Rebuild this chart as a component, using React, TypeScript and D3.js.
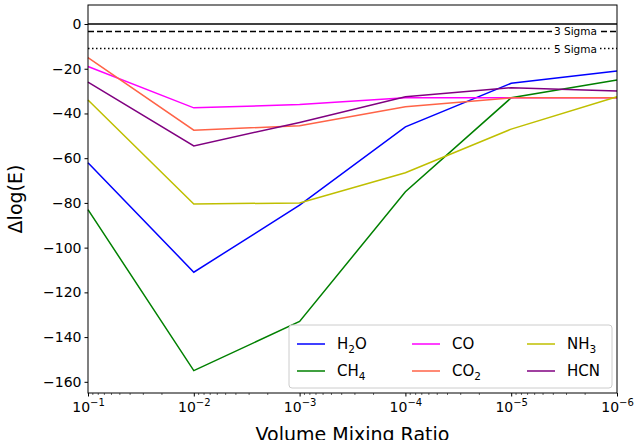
import * as d3 from "d3";
import { useEffect, useRef } from "react";

const vmr = [1e-1, 1e-2, 1e-3, 1e-4, 1e-5, 1e-6];
const h2o = [-62, -111, -81, -46, -26.5, -21];
const ch4 = [-83, -155, -133, -75, -33, -25];
const co = [-19, -37.5, -36, -33, -33, -33];
const co2 = [-15, -47.5, -45.5, -37, -33, -33];
const nh3 = [-34, -80.5, -80, -66.5, -47, -32.5];
const hcn = [-26, -54.5, -44, -32.5, -28.5, -30];
const sigmaLines = [
  { v: 0, dash: "", label: "" },
  { v: -3.3, dash: "6,3", label: "3 Sigma" },
  { v: -11, dash: "1.5,2.5", label: "5 Sigma" },
];
const seriesList = [
  { name: "H", sub: "2", tail: "O", values: h2o, color: "#0000ff" },
  { name: "CH", sub: "4", tail: "", values: ch4, color: "#008000" },
  { name: "CO", sub: "", tail: "", values: co, color: "#ff00ff" },
  { name: "CO", sub: "2", tail: "", values: co2, color: "#ff6347" },
  { name: "NH", sub: "3", tail: "", values: nh3, color: "#bfbf00" },
  { name: "HCN", sub: "", tail: "", values: hcn, color: "#800080" },
];
const yTicks = [0, -20, -40, -60, -80, -100, -120, -140, -160];
const xTicks = [-1, -2, -3, -4, -5, -6];

export default function App() {
  const ref = useRef<SVGSVGElement | null>(null);
  const width = 639, height = 440;

  useEffect(() => {
    if (!ref.current) return;
    const svg = d3.select(ref.current);
    svg.selectAll("*").remove();
    const m = { left: 88, right: 22, top: 5, bottom: 47 };
    const x = d3.scaleLog().domain([1e-1, 1e-6]).range([m.left, width - m.right]);
    const y = d3.scaleLinear().domain([-165, 8.5]).range([height - m.bottom, m.top]);
    const font = "DejaVu Sans";

    const lines = svg.append("g");
    sigmaLines.forEach(s => {
      lines.append("line")
        .attr("x1", m.left).attr("x2", width - m.right)
        .attr("y1", y(s.v)).attr("y2", y(s.v))
        .attr("stroke", "black").attr("stroke-width", 1.5)
        .attr("stroke-dasharray", s.dash);
      if (s.label) {
        const t = lines.append("text")
          .attr("x", 554).attr("y", y(s.v) + 4)
          .attr("font-family", font).attr("font-size", 10.5).text(s.label);
        const bb = (t.node() as SVGTextElement).getBBox();
        lines.insert("rect", "text:last-of-type")
          .attr("x", bb.x - 2).attr("y", bb.y).attr("width", bb.width + 4).attr("height", bb.height)
          .attr("fill", "white");
        t.raise();
      }
    });

    const line = d3.line<number>().x((_, i) => x(vmr[i])).y(d => y(d));
    seriesList.forEach(s => {
      svg.append("path").attr("d", line(s.values)!)
        .attr("fill", "none").attr("stroke", s.color).attr("stroke-width", 1.5);
    });

    // axes
    const xa = svg.append("g").attr("transform", `translate(0,${height - m.bottom})`)
      .call(d3.axisBottom(x).tickValues(xTicks.map(e => Math.pow(10, e))).tickSize(3.5).tickFormat(() => ""));
    xa.selectAll(".tick").each(function (d, i) {
      const t = d3.select(this).append("text").attr("y", 19).attr("fill", "black")
        .attr("font-family", font).attr("font-size", 14).attr("text-anchor", "middle");
      t.append("tspan").text("10");
      t.append("tspan").attr("dy", -6).attr("font-size", 10).text("\u2212" + (-xTicks[i]));
    });
    const minor: number[] = [];
    for (let e = -6; e < -1; e++) for (let k = 2; k <= 9; k++) minor.push(k * Math.pow(10, e));
    xa.selectAll(".minor").data(minor).enter().append("line")
      .attr("x1", d => x(d)).attr("x2", d => x(d)).attr("y1", 0).attr("y2", 2).attr("stroke", "black").attr("stroke-width", 0.6);
    const ya = svg.append("g").attr("transform", `translate(${m.left},0)`)
      .call(d3.axisLeft(y).tickValues(yTicks).tickSize(3.5).tickFormat(d => d3.format("d")(d as number).replace("-", "\u2212")));
    ya.selectAll("text").attr("font-family", font).attr("font-size", 14);
    [xa, ya].forEach(a => a.select(".domain").remove());
    svg.append("rect").attr("x", m.left).attr("y", m.top)
      .attr("width", width - m.left - m.right).attr("height", height - m.top - m.bottom)
      .attr("fill", "none").attr("stroke", "black").attr("stroke-width", 1);

    svg.append("text").attr("x", (m.left + width - m.right) / 2).attr("y", height + 1)
      .attr("text-anchor", "middle").attr("font-family", font).attr("font-size", 19).text("Volume Mixing Ratio");
    svg.append("text").attr("transform", `translate(22,${(m.top + height - m.bottom) / 2}) rotate(-90)`)
      .attr("text-anchor", "middle").attr("font-family", font).attr("font-size", 19).text("\u0394log(E)");

    // legend
    const lg = svg.append("g").attr("transform", "translate(289,325)");
    lg.append("rect").attr("width", 323).attr("height", 63).attr("rx", 3)
      .attr("fill", "white").attr("fill-opacity", 0.8).attr("stroke", "#cccccc");
    seriesList.forEach((s, i) => {
      const col = Math.floor(i / 2), row = i % 2;
      const gx = 8 + col * 115, gy = 19 + row * 27;
      lg.append("line").attr("x1", gx).attr("x2", gx + 28).attr("y1", gy).attr("y2", gy)
        .attr("stroke", s.color).attr("stroke-width", 1.5);
      const t = lg.append("text").attr("x", gx + 40).attr("y", gy + 5)
        .attr("font-family", font).attr("font-size", 15);
      t.append("tspan").text(s.name);
      if (s.sub) t.append("tspan").attr("dy", 4).attr("font-size", 10.5).text(s.sub);
      if (s.tail) t.append("tspan").attr("dy", -4).text(s.tail);
    });
  }, []);

  return <svg ref={ref} width={width} height={height} style={{ position: "absolute", left: 0, top: 0 }} />;
}
